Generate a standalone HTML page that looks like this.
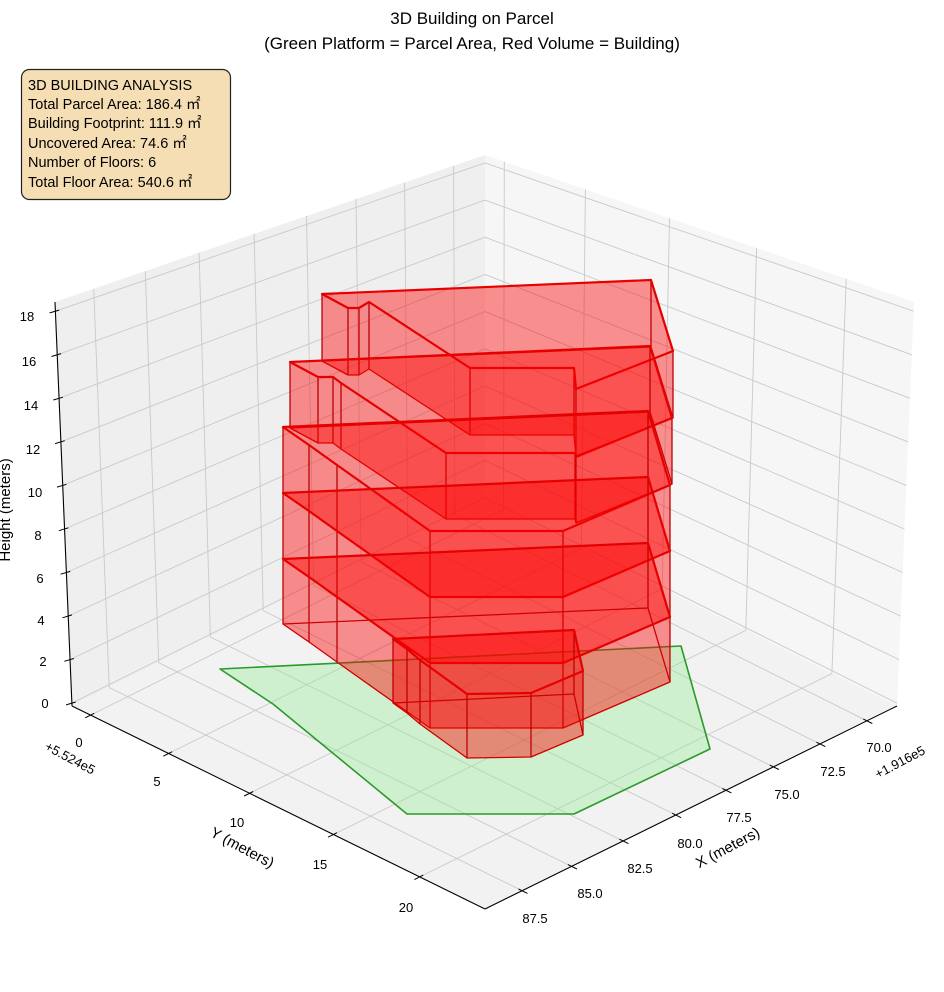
<!DOCTYPE html>
<html><head><meta charset="utf-8">
<style>
html,body{margin:0;padding:0;background:#fff;}
svg{display:block;font-family:"Liberation Sans","Noto Sans CJK SC",sans-serif;}
</style></head>
<body>
<svg id="s" width="944" height="992" viewBox="0 0 944 992" xmlns="http://www.w3.org/2000/svg">
<g id="g"></g>
<text x="472" y="24" font-size="17" text-anchor="middle" fill="#000">3D Building on Parcel</text>
<text x="472" y="49" font-size="17" text-anchor="middle" fill="#000">(Green Platform = Parcel Area, Red Volume = Building)</text>
<rect x="21.5" y="69.5" width="209" height="130" rx="8" ry="8" fill="#f5deb3" stroke="#222" stroke-width="1.2"/>
<g font-size="14.5" fill="#000">
<text x="28" y="90">3D BUILDING ANALYSIS</text>
<text x="28" y="109">Total Parcel Area: 186.4 ㎡</text>
<text x="28" y="128">Building Footprint: 111.9 ㎡</text>
<text x="28" y="148">Uncovered Area: 74.6 ㎡</text>
<text x="28" y="167">Number of Floors: 6</text>
<text x="28" y="187">Total Floor Area: 540.6 ㎡</text>
</g>
<g font-size="13" fill="#000" text-anchor="middle">
<text x="45" y="708">0</text><text x="43" y="666">2</text><text x="41" y="625">4</text>
<text x="40" y="583">6</text><text x="38" y="540">8</text><text x="35" y="497">10</text>
<text x="33" y="454">12</text><text x="31" y="410">14</text><text x="29" y="366">16</text>
<text x="27" y="321">18</text>
<text x="79" y="747">0</text><text x="157" y="786">5</text><text x="237" y="827">10</text>
<text x="320" y="869">15</text><text x="406" y="912">20</text>
<text x="879" y="752">70.0</text><text x="833" y="776">72.5</text><text x="787" y="799">75.0</text>
<text x="739" y="822">77.5</text><text x="690" y="848">80.0</text><text x="640" y="873">82.5</text>
<text x="590" y="898">85.0</text><text x="535" y="923">87.5</text>
</g>
<text transform="translate(68,762) rotate(28)" font-size="13" text-anchor="middle">+5.524e5</text>
<text transform="translate(902,766) rotate(-28)" font-size="13" text-anchor="middle">+1.916e5</text>
<text transform="translate(240,852) rotate(28)" font-size="15" text-anchor="middle">Y (meters)</text>
<text transform="translate(730,852) rotate(-28)" font-size="15" text-anchor="middle">X (meters)</text>
<text transform="translate(10,510) rotate(-90)" font-size="15" text-anchor="middle">Height (meters)</text>
</svg>
<script>
(function(){
const L0=[72,706],F0=[485,909],R0=[897,706],B0=[485,500],L1=[55,302],F1=[485,446],R1=[914,302],B1=[485,155];
function lerp(a,b,t){return [a[0]+(b[0]-a[0])*t,a[1]+(b[1]-a[1])*t];}
function bil(L,F,R,B,u,v){return lerp(lerp(L,F,v),lerp(B,R,v),u);}
function P(u,v,w){return lerp(bil(L0,F0,R0,B0,u,v),bil(L1,F1,R1,B1,u,v),w);}
const xu=[0.09,0.21,0.335,0.463,0.585,0.70,0.813,0.927];
const yv=[0.045,0.234,0.43,0.633,0.842];
const zw=[];for(let z=0;z<=18;z+=2)zw.push(0.007+z*0.0539);
let s='';
function poly(pts,fill,stroke,sw){return '<polygon points="'+pts.map(p=>p[0].toFixed(1)+','+p[1].toFixed(1)).join(' ')+'" fill="'+fill+'" stroke="'+(stroke||'none')+'" stroke-width="'+(sw||0)+'" stroke-linejoin="round"/>';}
function line(a,b,c,w){return '<line x1="'+a[0].toFixed(1)+'" y1="'+a[1].toFixed(1)+'" x2="'+b[0].toFixed(1)+'" y2="'+b[1].toFixed(1)+'" stroke="'+c+'" stroke-width="'+w+'"/>';}
s+=poly([L0,B0,B1,L1],'#efefef');
s+=poly([B0,R0,R1,B1],'#f6f6f6');
s+=poly([L0,F0,R0,B0],'#f2f2f2');
const gc='#c9c9c9',gw=0.9;
xu.forEach(u=>{s+=line(P(u,0,0),P(u,0,1),gc,gw);});
zw.forEach(w=>{s+=line(P(0,0,w),P(1,0,w),gc,gw);});
yv.forEach(v=>{s+=line(P(1,v,0),P(1,v,1),gc,gw);});
zw.forEach(w=>{s+=line(P(1,0,w),P(1,1,w),gc,gw);});
xu.forEach(u=>{s+=line(P(u,0,0),P(u,1,0),gc,gw);});
yv.forEach(v=>{s+=line(P(0,v,0),P(1,v,0),gc,gw);});
s+=line(L0,F0,'#000',1.1);s+=line(F0,R0,'#000',1.1);s+=line(L0,L1,'#000',1.1);
function nrm(d){const l=Math.hypot(d[0],d[1]);return [d[0]/l,d[1]/l];}
const dy=nrm([L0[0]-B0[0],L0[1]-B0[1]]), dx=nrm([F0[0]-L0[0],F0[1]-L0[1]]), dz=nrm([-10,3]);
function tick(p,d){return line([p[0]-d[0]*4,p[1]-d[1]*4],[p[0]+d[0]*6,p[1]+d[1]*6],'#000',1);}
yv.forEach(v=>{s+=tick(P(0,v,0),dy);});
xu.forEach(u=>{s+=tick(P(u,1,0),dx);});
zw.forEach(w=>{s+=tick(P(0,0,w),dz);});
s+=poly([[220,669],[681,646],[710,749],[574,814],[407,814],[273,704]],'rgba(144,238,144,0.35)','#2a9a2a',1.6);
const fill='rgba(255,0,0,0.24)';
function slab(top,h){
  const bot=top.map(p=>[p[0],p[1]+h]);
  let o='';
  o+=poly(bot,fill);
  for(let i=0;i<top.length;i++){const j=(i+1)%top.length;o+=poly([top[i],top[j],bot[j],bot[i]],fill);}
  o+=poly(top,fill);
  o+=poly(bot,'none','#d00000',1.3);
  for(let i=0;i<top.length;i++){o+=line(top[i],bot[i],'#c00000',1.3);}
  o+=poly(top,'none','#e60000',2.2);
  return o;
}
function shift(pts,d){return pts.map(p=>[p[0],p[1]+d]);}
const A=[[322,294],[651,280],[673,351],[576,389],[574,368],[470,368],[369,302],[359,308],[348,308]];
const B=[[290,362],[650,346],[672,418],[576,457],[575,453],[446,453],[341,383],[333,377],[318,377]];
const C=[[283,427],[648,411],[670,485],[563,531],[430,531],[337,465],[309,445]];
const D=[[393,639],[574,630],[583,671],[531,693],[467,694],[420,660],[407,649]];
s+=slab(A,67);
s+=slab(B,66);
s+=slab(C,66);
s+=slab(shift(C,66),66);
s+=slab(shift(C,132),65);
s+=slab(D,64);
document.getElementById('g').innerHTML=s;
})();
</script>
</body></html>
